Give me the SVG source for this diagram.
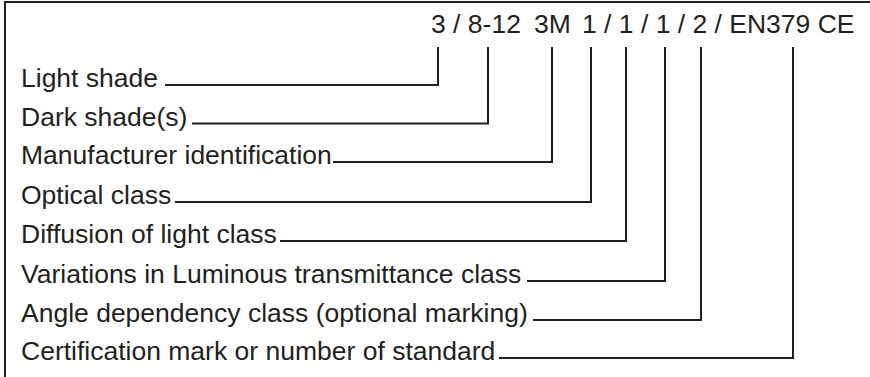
<svg xmlns="http://www.w3.org/2000/svg" width="870" height="377" viewBox="0 0 870 377">
<style>
text{font-family:"Liberation Sans",Arial,sans-serif;font-size:26.5px;fill:#231f20}
.ln{fill:none;stroke:#231f20;stroke-width:2}
</style>
<rect x="0" y="0" width="870" height="377" fill="#fff"/>
<path class="ln" d="M5,377 V2 H870"/>
<g id="code"><text x="431" y="33">3 / 8-12</text><text x="534" y="33">3M</text><text x="582" y="33">1 / 1 / 1 / 2 / EN379 CE</text></g>
<g id="n1"><text x="21" y="87">Light shade</text></g>
<g id="n2"><text x="21" y="125.5">Dark shade(s)</text></g>
<g id="n3"><text x="21" y="164">Manufacturer identification</text></g>
<g id="n4"><text x="21" y="203.5">Optical class</text></g>
<g id="n5"><text x="21" y="243">Diffusion of light class</text></g>
<g id="n6"><text x="21" y="283">Variations in Luminous transmittance class</text></g>
<g id="n7"><text x="21" y="322">Angle dependency class (optional marking)</text></g>
<g id="n8"><text x="21" y="360">Certification mark or number of standard</text></g>
<g id="connectors">
<path class="ln" d="M165,85 H438 V47"/>
<path class="ln" d="M192,123.5 H488 V47"/>
<path class="ln" d="M333,162 H552 V47"/>
<path class="ln" d="M175,202 H591 V47"/>
<path class="ln" d="M280,241 H626 V47"/>
<path class="ln" d="M527,281 H665 V47"/>
<path class="ln" d="M533,320 H701 V47"/>
<path class="ln" d="M499,358 H793 V47"/>
</g>
</svg>
